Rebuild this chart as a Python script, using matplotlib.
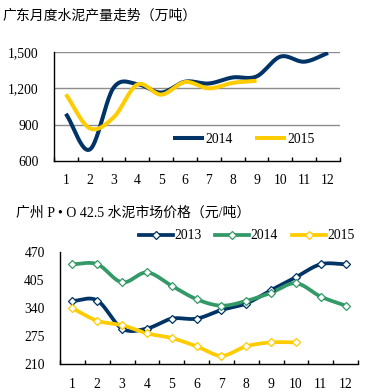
import numpy as np
import matplotlib
matplotlib.use("Agg")
import matplotlib.pyplot as plt
from matplotlib.ticker import FuncFormatter

# ---- data ----
months = [1, 2, 3, 4, 5, 6, 7, 8, 9, 10, 11, 12]
prod_2014 = [990, 695, 1205, 1235, 1165, 1255, 1240, 1290, 1298, 1462, 1420, 1492]
prod_2015 = [1150, 870, 960, 1232, 1148, 1252, 1200, 1245, 1262]
prod_yticks = [600, 900, 1200, 1500]

price_2013 = [356, 357, 292, 292, 315, 315, 335, 350, 381, 411, 441, 441]
price_2014 = [441, 441, 399, 422, 391, 360, 345, 356, 375, 397, 366, 345]
price_2015 = [339, 310, 300, 281, 270, 251, 229, 251, 260, 260]
price_yticks = [210, 275, 340, 405, 470]

title_top = "广东月度水泥产量走势（万吨）"
title_bottom = "广州 P • O 42.5 水泥市场价格（元/吨）"

NAVY = "#003366"
YELLOW = "#FFCC00"
GREEN = "#339966"
SERIF = "Liberation Serif"
CJK = ["Noto Sans CJK SC", "DejaVu Sans"]


def smooth(x, y, n=24):
    """Catmull-Rom spline through the data points (rendering only)."""
    x = np.asarray(x, float)
    y = np.asarray(y, float)
    if len(x) < 3:
        return x, y
    px = np.concatenate([[2 * x[0] - x[1]], x, [2 * x[-1] - x[-2]]])
    py = np.concatenate([[2 * y[0] - y[1]], y, [2 * y[-1] - y[-2]]])
    xs, ys = [], []
    for i in range(1, len(px) - 2):
        t = np.linspace(0, 1, n, endpoint=(i == len(px) - 3))
        for P, out in ((px, xs), (py, ys)):
            p0, p1, p2, p3 = P[i - 1], P[i], P[i + 1], P[i + 2]
            out.extend(0.5 * ((2 * p1) + (-p0 + p2) * t
                              + (2 * p0 - 5 * p1 + 4 * p2 - p3) * t ** 2
                              + (-p0 + 3 * p1 - 3 * p2 + p3) * t ** 3))
    return np.array(xs), np.array(ys)


fig = plt.figure(figsize=(3.67, 3.92), dpi=100)
W, H = 367.0, 392.0

# ================= top chart =================
ax1 = fig.add_axes([54 / W, 1 - 161 / H, (340 - 54) / W, (161 - 52) / H])
xc = np.array(months) - 0.5
for vals, col, lab in ((prod_2014, NAVY, "2014"), (prod_2015, YELLOW, "2015")):
    sx, sy = smooth(xc[:len(vals)], vals)
    ax1.plot(sx, sy, color=col, lw=2.9, solid_capstyle="butt", label=lab, zorder=3)

ax1.set_xlim(0, 12)
ax1.set_ylim(600, 1500)
ax1.set_yticks(prod_yticks)
ax1.yaxis.set_major_formatter(FuncFormatter(lambda v, p: f"{int(v):,}"))
for v in prod_yticks[1:]:
    ax1.axhline(v, color="#8c8c8c", lw=1.0, zorder=1)
ax1.set_xticks(xc)
ax1.set_xticklabels([str(m) for m in months])
ax1.set_xticks(np.arange(0, 13), minor=True)
ax1.tick_params(axis="x", which="major", length=0, pad=9.5)
ax1.tick_params(axis="x", which="minor", direction="in", length=3, width=1)
ax1.tick_params(axis="y", length=0, pad=11)
for s in ("top", "right"):
    ax1.spines[s].set_visible(False)
for s in ("left", "bottom"):
    ax1.spines[s].set_color("black")
    ax1.spines[s].set_linewidth(1)
for t in ax1.get_xticklabels() + ax1.get_yticklabels():
    t.set_fontfamily(SERIF)
    t.set_fontsize(9.8)
ax1.legend(loc="center left", bbox_to_anchor=(0.416, 0.2), frameon=False,
           ncol=2, handlelength=2.3, handletextpad=0.1, columnspacing=1.6,
           borderpad=0, borderaxespad=0, prop={"family": SERIF, "size": 9.8})
fig.text(3 / W, 1 - 15 / H, title_top, family=CJK, fontsize=10, ha="left", va="center")

# ================= bottom chart =================
ax2 = fig.add_axes([60 / W, 1 - 364 / H, (358 - 60) / W, (364 - 251.7) / H])
for vals, col, lab in ((price_2013, NAVY, "2013"), (price_2014, GREEN, "2014"),
                       (price_2015, YELLOW, "2015")):
    xs = xc[:len(vals)]
    sx, sy = smooth(xs, vals)
    ax2.plot(sx, sy, color=col, lw=2.7, solid_capstyle="butt", zorder=3)
    ax2.plot(xs, vals, linestyle="none", marker="D", markersize=4.2,
             markerfacecolor="white", markeredgecolor=col, markeredgewidth=0.9, zorder=4)
    ax2.plot([], [], color=col, lw=2.7, marker="D", markersize=4.2,
             markerfacecolor="white", markeredgecolor=col, markeredgewidth=0.9, label=lab)

ax2.set_xlim(0, 12)
ax2.set_ylim(210, 470)
ax2.set_yticks(price_yticks)
ax2.set_xticks(xc)
ax2.set_xticklabels([str(m) for m in months])
ax2.set_xticks(np.arange(0, 13), minor=True)
ax2.tick_params(axis="x", which="major", length=0, pad=10)
ax2.tick_params(axis="x", which="minor", direction="in", length=3, width=1)
ax2.tick_params(axis="y", length=0, pad=11)
for s in ("top", "right"):
    ax2.spines[s].set_visible(False)
for s in ("left", "bottom"):
    ax2.spines[s].set_color("black")
    ax2.spines[s].set_linewidth(1)
for t in ax2.get_xticklabels() + ax2.get_yticklabels():
    t.set_fontfamily(SERIF)
    t.set_fontsize(9.8)
ax2.legend(loc="center left", bbox_to_anchor=(0.265, 1.14), frameon=False, ncol=3,
           numpoints=1, handlelength=2.5, handletextpad=0.1, columnspacing=1.0,
           borderpad=0, borderaxespad=0, prop={"family": SERIF, "size": 9.8})
fig.text(16 / W, 1 - 213 / H, title_bottom, family=[SERIF] + CJK, fontsize=10,
         ha="left", va="center")

fig.savefig("out.png", dpi=100)
